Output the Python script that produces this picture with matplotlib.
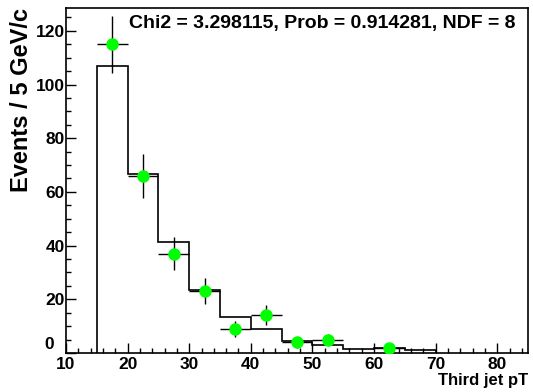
import matplotlib
matplotlib.use("Agg")
import matplotlib.pyplot as plt
from matplotlib.ticker import MultipleLocator, FuncFormatter

plt.rcParams['font.family'] = ['Liberation Sans', 'DejaVu Sans']
plt.rcParams['font.weight'] = 'bold'

# model histogram (bin edges, contents)
edges = [15, 20, 25, 30, 35, 40, 45, 50, 55, 60, 65, 70]
model = [107, 66.5, 41.2, 23.3, 13.4, 9.1, 4.6, 3.0, 1.6, 1.8, 1.2]

# data points
x_data = [17.5, 22.5, 27.5, 32.5, 37.5, 42.5, 47.5, 52.5, 62.5]
y_data = [115, 66, 37, 23, 9, 14, 4, 5, 2]
y_err = [10.7, 8.1, 6.1, 4.8, 3.0, 3.7, 2.0, 2.2, 1.4]
x_err = [2.5] * len(x_data)

fig = plt.figure(figsize=(5.33, 3.92), dpi=100)
ax = fig.add_axes([0.1238, 0.0995, 0.8668, 0.8801])

ax.stairs(model, edges, color='black', lw=1.2)
ax.errorbar(x_data, y_data, xerr=x_err, yerr=y_err, fmt='o', color='black',
            ecolor='black', elinewidth=1.0, capsize=0, markersize=8,
            markerfacecolor='#00ff00', markeredgecolor='#00ff00', zorder=3)

ax.set_xlim(10, 85)
ax.set_ylim(0, 128.5)
ax.xaxis.set_major_locator(MultipleLocator(10))
ax.xaxis.set_minor_locator(MultipleLocator(2))
ax.yaxis.set_major_locator(MultipleLocator(20))
ax.yaxis.set_minor_locator(MultipleLocator(5))
# the "0" is drawn separately, a bit above the axis, like ROOT does
ax.yaxis.set_major_formatter(FuncFormatter(lambda v, p: '' if v == 0 else f'{v:g}'))
ax.tick_params(which='both', direction='in', top=False, right=False,
               labelsize=12.5, width=1)
ax.tick_params(which='major', length=7)
ax.tick_params(which='minor', length=3.5)
ax.tick_params(axis='x', pad=3)
ax.tick_params(axis='y', pad=1)
for s in ax.spines.values():
    s.set_linewidth(1.2)

ax.text(-0.026, 0.5, '0', transform=ax.get_yaxis_transform(),
        ha='right', va='bottom', fontsize=12.5, fontweight='bold')

ax.set_ylabel('Events / 5 GeV/c', fontsize=17, fontweight='bold')
ax.yaxis.set_label_coords(-0.072, 1.0)
ax.yaxis.label.set_horizontalalignment('right')
ax.set_xlabel('Third jet pT', fontsize=12, fontweight='bold')
ax.xaxis.set_label_coords(1.0, -0.058)
ax.xaxis.label.set_horizontalalignment('right')

ax.text(0.555, 0.955, 'Chi2 = 3.298115, Prob = 0.914281, NDF = 8',
        transform=ax.transAxes, ha='center', va='center',
        fontsize=14, fontweight='bold')

fig.savefig('out.png', dpi=100)
